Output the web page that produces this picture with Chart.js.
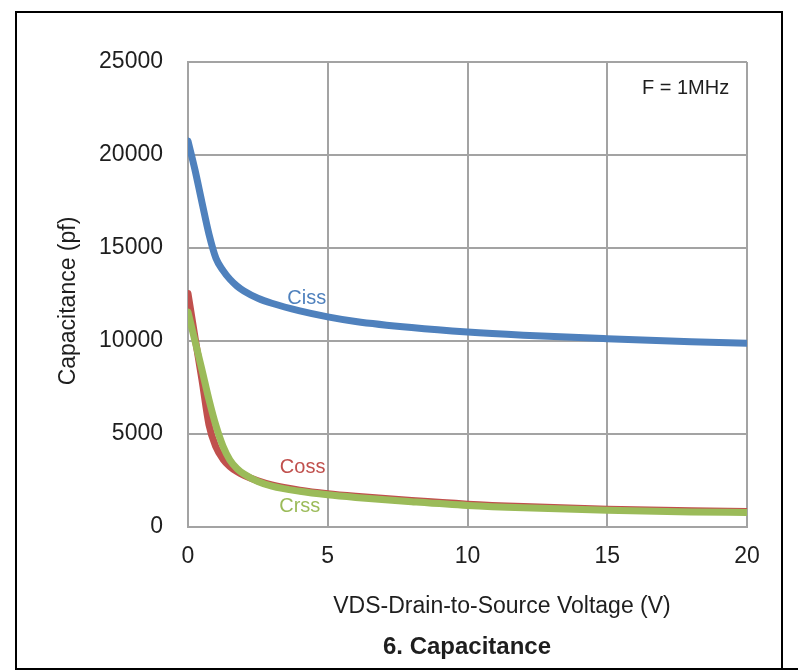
<!DOCTYPE html>
<html>
<head>
<meta charset="utf-8">
<script src="https://cdn.jsdelivr.net/npm/chart.js@4.4.0/dist/chart.umd.min.js"></script>
<style>
  html, body { margin: 0; padding: 0; background: #fff; }
  #wrap { width: 798px; height: 671px; }
</style>
</head>
<body>
<div id="wrap"><canvas id="grafico" width="798" height="671"></canvas></div>
<script>
// datos
var voltaje = [0, 0.25, 0.5, 0.75, 1, 1.25, 1.5, 1.75, 2, 2.5, 3, 4, 5, 6, 8, 10, 12, 15, 18, 20];
var ciss = [20750, 19200, 17450, 15750, 14450, 13800, 13320, 12960, 12690, 12300, 12030, 11620, 11300, 11050, 10720, 10480, 10310, 10120, 9960, 9880];
var coss = [12550, 10200, 7900, 5500, 4300, 3650, 3250, 2980, 2780, 2480, 2260, 1980, 1790, 1650, 1420, 1230, 1100, 960, 870, 830];
var crss = [11550, 10000, 8450, 6850, 5450, 4350, 3600, 3150, 2850, 2450, 2200, 1920, 1730, 1590, 1360, 1160, 1030, 900, 810, 780];
var ticksX = [0, 5, 10, 15, 20];
var ticksY = [0, 5000, 10000, 15000, 20000, 25000];

var AZUL = '#4F81BD';
var ROJO = '#C0504D';
var VERDE = '#9BBB59';
var GRIS = '#a3a3a3';
var TEXTO = '#1e1e1e';
var FUENTE = '"Liberation Sans", Arial, sans-serif';

function puntos(xs, ys) {
    var res = [];
    for (var i = 0; i < xs.length; i++) {
        res.push({ x: xs[i], y: ys[i] });
    }
    return res;
}

// textos, marco y etiquetas de las curvas
var textosPlugin = {
    id: 'textos',
    afterDraw: function(chart) {
        var ctx = chart.ctx;
        var sx = chart.scales.x;
        var sy = chart.scales.y;
        ctx.save();

        // marco negro
        ctx.strokeStyle = '#000';
        ctx.lineWidth = 2;
        ctx.beginPath();
        ctx.moveTo(798, 669);
        ctx.lineTo(16, 669);
        ctx.lineTo(16, 12);
        ctx.lineTo(782, 12);
        ctx.lineTo(782, 669);
        ctx.stroke();

        ctx.textAlign = 'center';
        ctx.textBaseline = 'middle';

        // etiquetas de las curvas
        ctx.font = '20px ' + FUENTE;
        ctx.fillStyle = AZUL;
        ctx.fillText('Ciss', sx.getPixelForValue(4.25), sy.getPixelForValue(12300));
        ctx.fillStyle = ROJO;
        ctx.fillText('Coss', sx.getPixelForValue(4.1), sy.getPixelForValue(3180));
        ctx.fillStyle = VERDE;
        ctx.fillText('Crss', sx.getPixelForValue(4.0), sy.getPixelForValue(1080));
        ctx.fillStyle = TEXTO;
        ctx.fillText('F = 1MHz', sx.getPixelForValue(17.8), sy.getPixelForValue(23550));

        // titulos de ejes
        ctx.font = '23px ' + FUENTE;
        ctx.fillText('VDS-Drain-to-Source Voltage (V)', 502, 607);
        ctx.save();
        ctx.translate(69, 301);
        ctx.rotate(-Math.PI / 2);
        ctx.fillText('Capacitance (pf)', 0, 0);
        ctx.restore();

        // titulo
        ctx.font = 'bold 24px ' + FUENTE;
        ctx.fillText('6. Capacitance', 467, 647);
        ctx.restore();
    }
};

var ctx = document.getElementById('grafico').getContext('2d');
new Chart(ctx, {
    type: 'line',
    data: {
        datasets: [{
            label: 'Ciss',
            data: puntos(voltaje, ciss),
            borderColor: AZUL,
            borderWidth: 7,
            order: 3
        }, {
            label: 'Coss',
            data: puntos(voltaje, coss),
            borderColor: ROJO,
            borderWidth: 7,
            order: 2
        }, {
            label: 'Crss',
            data: puntos(voltaje, crss),
            borderColor: VERDE,
            borderWidth: 7,
            order: 1
        }]
    },
    options: {
        responsive: false,
        animation: false,
        devicePixelRatio: 1,
        elements: {
            point: { radius: 0 },
            line: { cubicInterpolationMode: 'monotone', borderCapStyle: 'round' }
        },
        layout: {
            padding: { left: 0, top: 62, right: 51, bottom: 0 }
        },
        plugins: {
            legend: { display: false },
            tooltip: { enabled: false },
            title: { display: false }
        },
        scales: {
            x: {
                type: 'linear',
                min: 0,
                max: 20,
                afterFit: function(scale) { scale.height = 144; },
                afterBuildTicks: function(scale) {
                    scale.ticks = ticksX.map(function(v) { return { value: v }; });
                },
                grid: { color: GRIS, lineWidth: 2, drawTicks: false },
                border: { color: GRIS, width: 2 },
                ticks: {
                    padding: 16,
                    color: TEXTO,
                    font: { family: FUENTE, size: 23 },
                    maxRotation: 0
                }
            },
            y: {
                type: 'linear',
                min: 0,
                max: 25000,
                afterFit: function(scale) { scale.width = 188; },
                afterBuildTicks: function(scale) {
                    scale.ticks = ticksY.map(function(v) { return { value: v }; });
                },
                grid: { color: GRIS, lineWidth: 2, drawTicks: false },
                border: { color: GRIS, width: 2 },
                ticks: {
                    padding: 25,
                    color: TEXTO,
                    font: { family: FUENTE, size: 23 },
                    callback: function(v) { return String(v); }
                }
            }
        }
    },
    plugins: [textosPlugin]
});
</script>
</body>
</html>
